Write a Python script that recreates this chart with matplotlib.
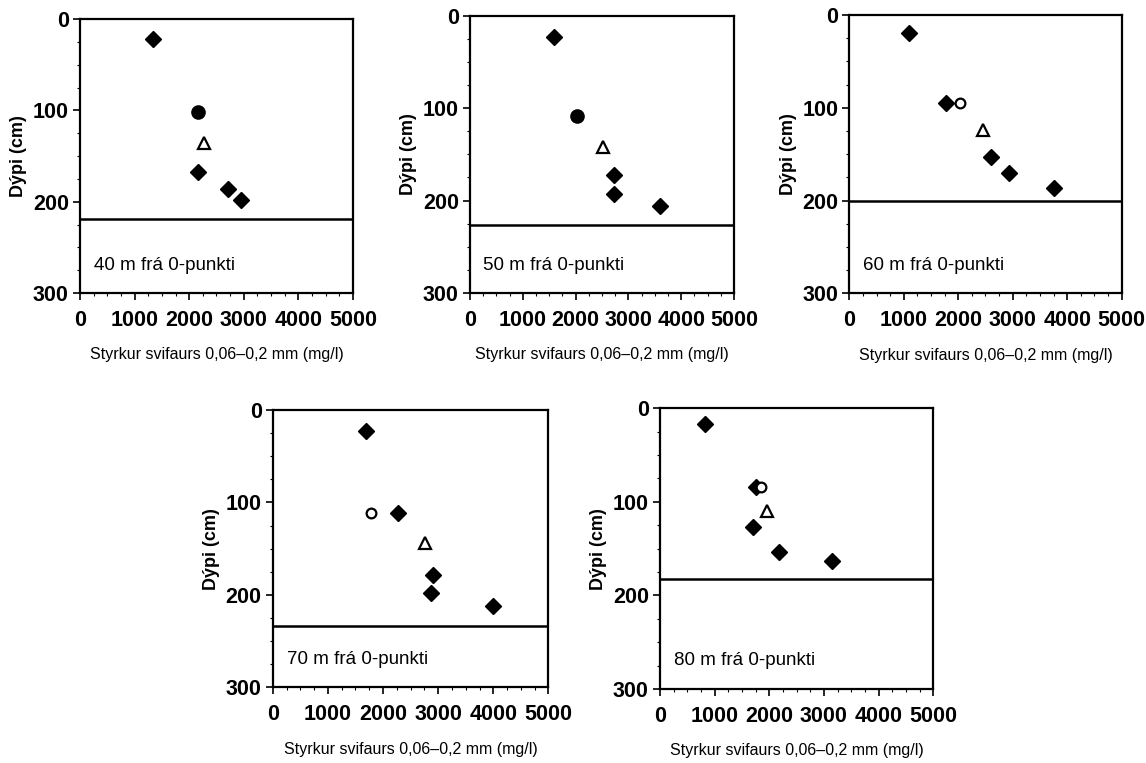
import matplotlib
matplotlib.use("Agg")
import matplotlib.pyplot as plt
from matplotlib.ticker import MultipleLocator

plt.rcParams['font.family'] = ['Liberation Sans', 'DejaVu Sans']

# distance labels
titles = ['40 m frá 0-punkti', '50 m frá 0-punkti', '60 m frá 0-punkti',
          '70 m frá 0-punkti', '80 m frá 0-punkti']

# filled diamonds (concentration mg/l, depth cm)
dia_x = [[1340, 2160, 2710, 2950],
         [1590, 2730, 2730, 3590],
         [1100, 1770, 2600, 2940, 3760],
         [1700, 2280, 2910, 2870, 3990],
         [820, 1760, 1710, 2170, 3140]]
dia_y = [[22, 167, 186, 198],
         [23, 172, 193, 206],
         [19, 95, 153, 170, 186],
         [23, 111, 178, 198, 212],
         [17, 84, 127, 154, 163]]

# filled circles
fc_x = [[2160], [2020], [], [], []]
fc_y = [[102], [108], [], [], []]

# open circles
oc_x = [[], [], [2030], [1780], [1850]]
oc_y = [[], [], [95], [111], [84]]

# open triangles
tri_x = [2270, 2510, 2450, 2760, 1950]
tri_y = [136, 142, 124, 144, 110]

# horizontal line depth
line_y = [219, 226, 200, 234, 182]

# axes rectangles [left, bottom, width, height] in figure fraction
positions = [[0.0698, 0.616, 0.2382, 0.359],
             [0.4101, 0.616, 0.2304, 0.3634],
             [0.7411, 0.6156, 0.2376, 0.3647],
             [0.2380, 0.0992, 0.2406, 0.3634],
             [0.5759, 0.0970, 0.2385, 0.3679]]

fig = plt.figure(figsize=(11.46, 7.63), dpi=100)

for i in range(5):
    ax = fig.add_axes(positions[i])
    ax.plot(dia_x[i], dia_y[i], 'D', color='black', markersize=8, linestyle='none')
    ax.plot(fc_x[i], fc_y[i], 'o', color='black', markersize=9.5, linestyle='none')
    ax.plot(oc_x[i], oc_y[i], 'o', markerfacecolor='white', markeredgecolor='black',
            markersize=7, markeredgewidth=1.6, linestyle='none')
    ax.plot([tri_x[i]], [tri_y[i]], '^', markerfacecolor='white', markeredgecolor='black',
            markersize=8.5, markeredgewidth=1.6, linestyle='none')
    ax.axhline(line_y[i], color='black', linewidth=1.8)

    ax.set_xlim(0, 5000)
    ax.set_ylim(300, 0)
    ax.set_xticks([0, 1000, 2000, 3000, 4000, 5000])
    ax.set_yticks([0, 100, 200, 300])
    ax.xaxis.set_minor_locator(MultipleLocator(250))
    ax.yaxis.set_minor_locator(MultipleLocator(25))
    ax.tick_params(which='major', direction='out', length=5, width=1.2, labelsize=15.5)
    ax.tick_params(axis='y', which='major', pad=3)
    ax.tick_params(axis='x', which='major', pad=7)
    ax.tick_params(which='minor', direction='out', length=2.5, width=0.8)
    for lab in ax.get_xticklabels() + ax.get_yticklabels():
        lab.set_fontweight('bold')
    for sp in ax.spines.values():
        sp.set_linewidth(1.6)

    ax.set_ylabel('Dýpi (cm)', fontsize=13, fontweight='bold', labelpad=4)
    ax.set_xlabel('Styrkur svifaurs 0,06–0,2 mm (mg/l)', fontsize=11.5, labelpad=12)
    ax.text(0.05, 0.1, titles[i], transform=ax.transAxes, fontsize=13.5,
            ha='left', va='center')

fig.savefig('out.png', dpi=100)
